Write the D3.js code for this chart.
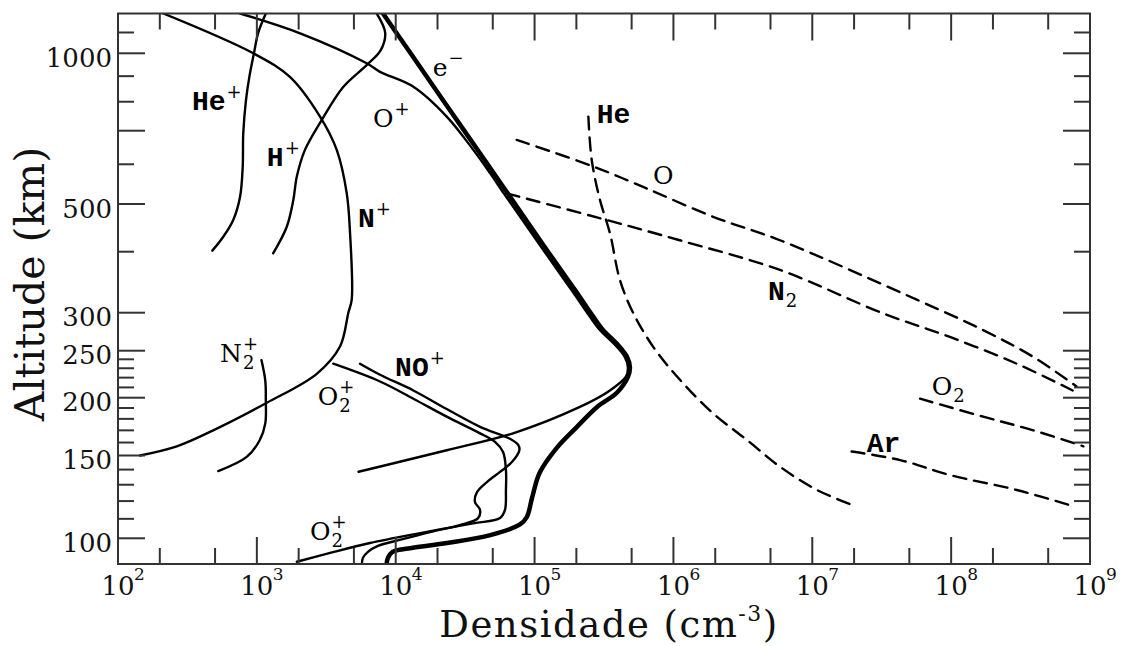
<!DOCTYPE html>
<html>
<head>
<meta charset="utf-8">
<title>Densidade x Altitude</title>
<script src="https://d3js.org/d3.v7.min.js"></script>
<style>
  body { margin: 0; background: #fff; }
  .frame { fill: none; stroke: #333; stroke-width: 2px; }
  .tick { stroke: #333; stroke-width: 2px; }
  .ticklab { font-family: 'DejaVu Serif', serif; fill: #111; }
  .title { font-family: 'DejaVu Serif', serif; fill: #111; }
  .curve { fill: none; stroke: #000; stroke-linejoin: round; stroke-linecap: round; }
  .mono { font-family: 'Liberation Mono', monospace; font-weight: bold; font-size: 28px; }
  .serif { font-family: 'DejaVu Serif', serif; font-size: 25px; }
  .small { font-family: 'DejaVu Serif', serif; font-size: 18px; }
</style>
</head>
<body>
<svg width="1121" height="646"></svg>
<script>
// densities (cm^-3) vs altitude (km)
var eMinus = [[8.1e3,1200],[1.28e4,1000],[2.23e4,800],[4.59e4,600],[7.24e4,500],[1.25e5,400],[1.74e5,350],
  [2.12e5,323],[2.59e5,297],[3.11e5,276],[3.99e5,257],[4.63e5,243],[4.86e5,231],[4.71e5,221],[3.93e5,205],[2.82e5,191],
  [2.02e5,173],[1.45e5,156],[1.09e5,138],[9.6e4,122],[8.8e4,111],[7.85e4,107],[4.8e4,101.6],[2.34e4,97.7],
  [1.33e4,95.4],[9.5e3,93.5],[8.8e3,90.8],[8.6e3,88]];
var oPlus = [[757,1200],[2.05e3,1096],[6.18e3,955],[7.71e3,918],[1.34e4,857],[2.33e4,747],[3.62e4,641],
  [4.78e4,576],[6.0e4,525],[6.8e4,500],[1.18e5,400],[1.64e5,350],[2.0e5,323],[2.45e5,297],[2.95e5,276],
  [3.8e5,257],[4.45e5,243],[4.7e5,231],[4.55e5,221],[3.49e5,207],[2.12e5,191],[7.0e4,167.5],[2.33e4,154],
  [1.07e4,145.5],[5.4e3,138.5]];
var hPlus = [[7.3e3,1200],[8.4e3,1098],[7.8e3,1015],[6.2e3,948],[4.2e3,857],[2.93e3,735],[2.22e3,641],
  [1.94e3,567],[1.83e3,509],[1.64e3,449],[1.31e3,397]];
var hePlus = [[1.16e3,1200],[1.02e3,1096],[953,1000],[883,897],[835,806],[798,691],[791,594],[757,517],
  [676,464],[573,429],[478,402]];
var nPlus = [[212,1200],[942,1000],[1.73e3,897],[2.85e3,747],[3.76e3,641],[4.44e3,525],[4.69e3,436],
  [4.82e3,319],[4.56e3,300],[3.97e3,255],[2.7e3,224],[1.18e3,195],[485,170],[265,157],[144,150]];
var n2Plus = [[1.08e3,239],[1.15e3,217],[1.16e3,198],[1.15e3,176],[1.05e3,162],[845,149],[527,139]];
var noPlus = [[5.53e3,235],[7.71e3,223],[1.34e4,207],[2.33e4,189],[4.05e4,173],[6.65e4,163],[7.64e4,158],
  [7.77e4,154],[6.87e4,145.3],[5.64e4,138.4],[4.54e4,131.7],[3.85e4,125.4],[3.72e4,119.5],[4.05e4,114.9],
  [3.92e4,110.4],[2.9e4,106.7],[1.77e4,103.1],[1.07e4,99.2],[7.45e3,96.3],[6.31e3,93.5],[5.81e3,90.8],[5.71e3,88]];
var o2Plus = [[3.55e3,235],[7.71e3,216],[1.34e4,199],[2.33e4,182],[4.05e4,167.5],[5.19e4,160.5],[5.93e4,152.6],
  [6.22e4,139.7],[6.22e4,126.7],[6.12e4,114.9],[5.64e4,110.4],[3.61e4,107.6],[1.5e4,102.6],[6.53e3,97.7],
  [3.37e3,93],[1.94e3,89]];
var heNeutral = [[2.44e5,747],[2.58e5,612],[2.96e5,509],[3.49e5,436],[4.12e5,350],[5.12e5,300],[7.13e5,255],
  [1.11e6,218],[1.93e6,185],[3.39e6,162],[5.85e6,142],[1.08e7,126.7],[2.09e7,116.7]];
var oNeutral = [[7.43e4,671],[2.65e5,594],[6.41e5,537],[1.93e6,471],[5.85e6,422],[5.65e7,319],
  [1.7e8,276],[3.88e8,243],[8.0e8,211]];
var n2Neutral = [[6.3e4,525],[3.3e5,464],[1.11e6,422],[5.85e6,367],[3.24e7,299],[9.8e7,267],
  [2.97e8,235],[7.5e8,207]];
var o2Neutral = [[5.97e7,199],[1.7e8,182],[3.91e8,170],[8.96e8,157]];
var arNeutral = [[1.92e7,153],[4.29e7,146.7],[9.8e7,136.3],[2.97e8,126.7],[7.8e8,116.7]];

var ions = [eMinus, oPlus, hPlus, hePlus, nPlus, n2Plus, noPlus, o2Plus];
var neutrals = [heNeutral, oNeutral, n2Neutral, o2Neutral, arNeutral];

// curve labels: text, superscript, subscript, anchor (density, altitude)
var labels = [
  ['He', '+', '', 341, 770], ['H', '+', '', 1.18e3, 594], ['N', '+', '', 5.35e3, 449],
  ['O', '+', '', 6.85e3, 712], ['e', '\u2212', '', 1.85e4, 900], ['He', '', '', 2.8e5, 725],
  ['O', '', '', 7.13e5, 549], ['N', '', '2', 4.8e6, 319], ['O', '', '2', 7.24e7, 202.6],
  ['Ar', '', '', 2.47e7, 153], ['NO', '+', '', 9.9e3, 222], ['O', '+', '2', 2.75e3, 193],
  ['O', '+', '2', 2.41e3, 99.2], ['N', '+', '2', 543, 237]
];
var monoLabels = ['He+', 'H+', 'N+', 'He', 'N2', 'Ar', 'NO+'];

var xExp = [2, 3, 4, 5, 6, 7, 8, 9];
var yLabeled = [100, 150, 200, 250, 300, 500, 1000];
var yLong = [100, 150, 200, 250, 300, 500, 700, 1000];
var yShort = [110, 120, 130, 140, 160, 170, 180, 190, 210, 220, 230, 240, 400, 600, 800, 900, 1100];

// layout
var L = 118, R = 1090, T = 13.5, B = 564;
var svg = d3.select('svg');

var x = d3.scaleLog().domain([1e2, 1e9]).range([L, R]);
// the altitude axis of the original is a slightly warped log axis
var y = d3.scaleLog()
  .domain([88, 100, 150, 200, 250, 300, 400, 500, 700, 1000, 1200])
  .range([B, 538.3, 455.5, 397.7, 350.7, 312.7, 251.7, 204, 130.7, 53.3, T]);

svg.append('clipPath').attr('id', 'clip')
  .append('rect').attr('x', L).attr('y', T).attr('width', R - L).attr('height', B - T);

var line = d3.line()
  .x(function (d) { return x(d[0]); })
  .y(function (d) { return y(d[1]); })
  .curve(d3.curveCatmullRom.alpha(0.5));

var plot = svg.append('g').attr('clip-path', 'url(#clip)');

plot.selectAll('path.ion').data(ions).enter().append('path')
  .attr('class', 'curve ion')
  .attr('d', line)
  .attr('stroke-width', function (d) { return d === eMinus ? 4.5 : 2.4; });

plot.selectAll('path.neu').data(neutrals).enter().append('path')
  .attr('class', 'curve neu')
  .attr('d', line)
  .attr('stroke-width', 2.4)
  .attr('stroke-dasharray', '13,8');

// frame + ticks
svg.append('rect').attr('class', 'frame')
  .attr('x', L).attr('y', T).attr('width', R - L).attr('height', B - T);

var ticks = svg.append('g');
var xMinor = [];
xExp.slice(0, -1).forEach(function (e) { xMinor.push(2 * Math.pow(10, e), 5 * Math.pow(10, e)); });

function xTicks(vals, len) {
  vals.forEach(function (v) {
    ticks.append('line').attr('class', 'tick').attr('x1', x(v)).attr('x2', x(v)).attr('y1', B).attr('y2', B - len);
    ticks.append('line').attr('class', 'tick').attr('x1', x(v)).attr('x2', x(v)).attr('y1', T).attr('y2', T + len);
  });
}
function yTicks(vals, len) {
  vals.forEach(function (v) {
    ticks.append('line').attr('class', 'tick').attr('y1', y(v)).attr('y2', y(v)).attr('x1', L).attr('x2', L + len);
    ticks.append('line').attr('class', 'tick').attr('y1', y(v)).attr('y2', y(v)).attr('x1', R).attr('x2', R - len);
  });
}
xTicks(xExp.map(function (e) { return Math.pow(10, e); }), 27);
xTicks(xMinor, 16);
yTicks(yLong, 27);
yTicks(yShort, 16);

// tick labels
svg.selectAll('text.ylab').data(yLabeled).enter().append('text')
  .attr('class', 'ticklab ylab')
  .attr('x', L - 6).attr('y', function (d) { return y(d) + 13.5; })
  .attr('text-anchor', 'end').style('font-size', '26px')
  .text(function (d) { return d; });

xExp.forEach(function (e) {
  var px = x(Math.pow(10, e));
  svg.append('text').attr('class', 'ticklab').attr('x', px).attr('y', 595)
    .attr('text-anchor', 'middle').style('font-size', '26px').text('10');
  svg.append('text').attr('class', 'ticklab').attr('x', px + 16).attr('y', 580)
    .style('font-size', '17px').text(e);
});

// axis titles
var xt = svg.append('text').attr('class', 'title').attr('x', 609).attr('y', 637)
  .attr('text-anchor', 'middle').style('font-size', '37px').style('letter-spacing', '1.5px');
xt.append('tspan').text('Densidade (cm');
xt.append('tspan').attr('dy', -16).style('font-size', '22px').text('-3');
xt.append('tspan').attr('dy', 16).text(')');

svg.append('text').attr('class', 'title')
  .attr('transform', 'translate(44,284) rotate(-90)')
  .attr('text-anchor', 'middle').style('font-size', '41px')
  .text('Altitude (km)');

// curve labels
var lg = svg.append('g');
labels.forEach(function (lb) {
  var key = lb[0] + lb[2] + lb[1];
  var cls = monoLabels.indexOf(key) >= 0 ? 'mono' : 'serif';
  var px = x(lb[3]), py = y(lb[4]);
  var t = lg.append('text').attr('class', cls).attr('x', px).attr('y', py).text(lb[0]);
  var w = t.node().getComputedTextLength();
  if (lb[1]) lg.append('text').attr('class', 'small').attr('x', px + w + 1).attr('y', py - 12).text(lb[1]);
  if (lb[2]) lg.append('text').attr('class', 'small').attr('x', px + w + 1).attr('y', py + 7).text(lb[2]);
});
</script>
</body>
</html>
